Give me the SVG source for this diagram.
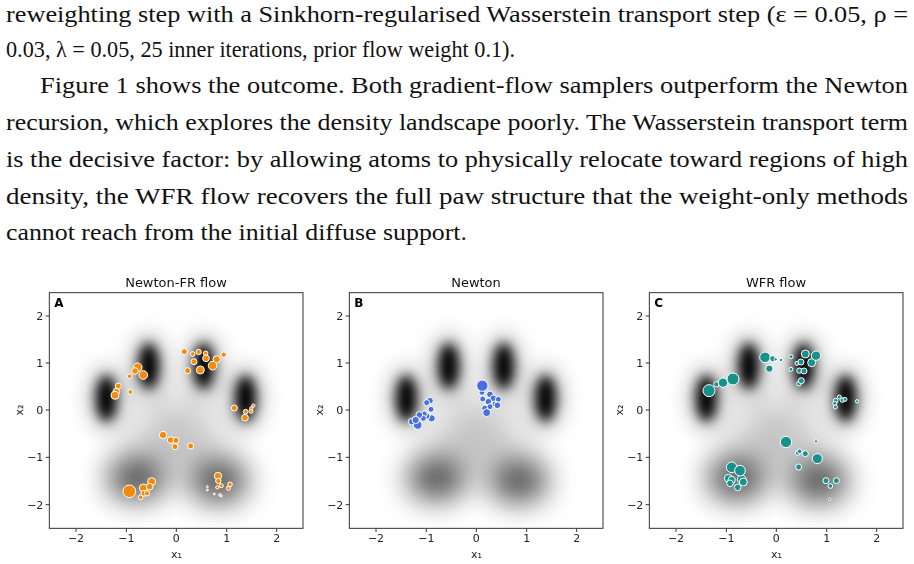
<svg xmlns="http://www.w3.org/2000/svg" width="914" height="564" viewBox="0 0 914 564">
<style>
.body{font-family:"Liberation Serif","DejaVu Serif",serif;font-size:23.5px;fill:#111}
.tk{font-family:"DejaVu Sans",sans-serif;font-size:33px;fill:#222}
.ttl{font-family:"DejaVu Sans",sans-serif;font-size:39px;fill:#111;text-anchor:middle}
.pl{font-family:"DejaVu Sans",sans-serif;font-size:36px;font-weight:bold;fill:#000}
.fr{fill:none;stroke:#333;stroke-width:3}
.tl{stroke:#333;stroke-width:3}
.o circle{fill:#f28a0c;stroke:#fff;stroke-width:3}
.b circle{fill:#4a6fe0;stroke:#fff;stroke-width:3}
.t circle{fill:#17918c;stroke:#fff;stroke-width:3}
.halo{fill:#000;opacity:0.3}
</style>
<defs>
<filter id="bt" x="-100%" y="-100%" width="300%" height="300%"><feGaussianBlur stdDeviation="17"/></filter>
<filter id="bh" x="-100%" y="-100%" width="300%" height="300%"><feGaussianBlur stdDeviation="32"/></filter>
<filter id="bp" x="-100%" y="-100%" width="300%" height="300%"><feGaussianBlur stdDeviation="45"/></filter>
<filter id="bm" x="-100%" y="-100%" width="300%" height="300%"><feGaussianBlur stdDeviation="70"/></filter>
<clipPath id="ax"><rect x="148" y="68" width="761" height="707"/></clipPath>
<g id="axes">
<g clip-path="url(#ax)">
<ellipse cx="529" cy="500" rx="130" ry="110" fill="#000" opacity="0.28" filter="url(#bm)"/>
<ellipse cx="409" cy="625" rx="85" ry="65" fill="#000" opacity="0.7" filter="url(#bp)"/>
<ellipse cx="657" cy="632" rx="85" ry="65" fill="#000" opacity="0.7" filter="url(#bp)"/>
<g filter="url(#bh)">
<ellipse class="halo" cx="319" cy="385" rx="50" ry="95"/>
<ellipse class="halo" cx="446" cy="288" rx="50" ry="95"/>
<ellipse class="halo" cx="611" cy="288" rx="50" ry="95"/>
<ellipse class="halo" cx="737" cy="385" rx="50" ry="95"/>
</g>
<ellipse cx="319" cy="385" rx="30" ry="68" fill="#000" filter="url(#bt)"/>
<ellipse cx="446" cy="288" rx="30" ry="68" fill="#000" filter="url(#bt)"/>
<ellipse cx="611" cy="288" rx="30" ry="68" fill="#000" filter="url(#bt)"/>
<ellipse cx="737" cy="385" rx="30" ry="68" fill="#000" filter="url(#bt)"/>
</g>
<rect class="fr" x="148" y="68" width="761" height="707"/>
<g class="tl">
<line x1="228" y1="775" x2="228" y2="786"/><line x1="379" y1="775" x2="379" y2="786"/><line x1="529" y1="775" x2="529" y2="786"/><line x1="680" y1="775" x2="680" y2="786"/><line x1="830" y1="775" x2="830" y2="786"/>
<line x1="148" y1="138" x2="137" y2="138"/><line x1="148" y1="279" x2="137" y2="279"/><line x1="148" y1="420" x2="137" y2="420"/><line x1="148" y1="562" x2="137" y2="562"/><line x1="148" y1="704" x2="137" y2="704"/>
</g>
<g class="tk" text-anchor="middle">
<text x="228" y="817">−2</text><text x="379" y="817">−1</text><text x="529" y="817">0</text><text x="680" y="817">1</text><text x="830" y="817">2</text>
<text x="529" y="864">x₁</text>
</g>
<g class="tk" text-anchor="end">
<text x="130" y="150">2</text><text x="130" y="291">1</text><text x="130" y="432">0</text><text x="130" y="574">−1</text><text x="130" y="716">−2</text>
</g>
<text class="tk" text-anchor="middle" transform="translate(68,420) rotate(-90)">x₂</text>
</g>
</defs>
<g id="paragraph" class="body">
<text x="6" y="22" textLength="902" lengthAdjust="spacingAndGlyphs">reweighting step with a Sinkhorn-regularised Wasserstein transport step (ε = 0.05, ρ =</text>
<text x="6" y="57" textLength="509" lengthAdjust="spacingAndGlyphs">0.03, λ = 0.05, 25 inner iterations, prior flow weight 0.1).</text>
<text x="40" y="93" textLength="868" lengthAdjust="spacingAndGlyphs">Figure 1 shows the outcome. Both gradient-flow samplers outperform the Newton</text>
<text x="6" y="130" textLength="902" lengthAdjust="spacingAndGlyphs">recursion, which explores the density landscape poorly. The Wasserstein transport term</text>
<text x="6" y="167" textLength="902" lengthAdjust="spacingAndGlyphs">is the decisive factor: by allowing atoms to physically relocate toward regions of high</text>
<text x="6" y="204" textLength="902" lengthAdjust="spacingAndGlyphs">density, the WFR flow recovers the full paw structure that the weight-only methods</text>
<text x="6" y="240" textLength="461" lengthAdjust="spacingAndGlyphs">cannot reach from the initial diffuse support.</text>
</g>
<g id="panelA" transform="translate(0,270) scale(0.33333)">
<use href="#axes"/>
<text class="ttl" x="528" y="50">Newton-FR flow</text>
<text class="pl" x="163" y="112">A</text>
<g class="o">
<circle cx="553" cy="245" r="9"/><circle cx="578" cy="252" r="7"/><circle cx="596" cy="246" r="8"/><circle cx="617" cy="250" r="7"/><circle cx="671" cy="254" r="8"/><circle cx="582" cy="275" r="9"/><circle cx="618" cy="265" r="10"/><circle cx="650" cy="268" r="11"/><circle cx="563" cy="302" r="9"/><circle cx="601" cy="300" r="12"/><circle cx="638" cy="287" r="13"/>
<circle cx="413" cy="292" r="13"/><circle cx="405" cy="303" r="10"/><circle cx="430" cy="315" r="13"/><circle cx="389" cy="319" r="7"/><circle cx="391" cy="366" r="7"/><circle cx="355" cy="348" r="9"/><circle cx="349" cy="365" r="10"/><circle cx="345" cy="376" r="12"/>
<circle cx="703" cy="414" r="9"/><circle cx="737" cy="425" r="7"/><circle cx="760" cy="407" r="5"/><circle cx="753" cy="424" r="6"/><circle cx="754" cy="415" r="5"/><circle cx="735" cy="443" r="10"/>
<circle cx="489" cy="495" r="11"/><circle cx="512" cy="510" r="10"/><circle cx="528" cy="511" r="9"/><circle cx="525" cy="530" r="9"/><circle cx="572" cy="528" r="9"/>
<circle cx="388" cy="664" r="19"/><circle cx="430" cy="654" r="12"/><circle cx="455" cy="635" r="12"/><circle cx="449" cy="650" r="10"/><circle cx="432" cy="670" r="9"/><circle cx="441" cy="670" r="8"/><circle cx="422" cy="682" r="7"/>
<circle cx="654" cy="618" r="11"/><circle cx="655" cy="633" r="8"/><circle cx="664" cy="647" r="6"/><circle cx="652" cy="652" r="5"/><circle cx="685" cy="655" r="6"/><circle cx="690" cy="643" r="7"/><circle cx="622" cy="650" r="3"/><circle cx="622" cy="660" r="3"/><circle cx="643" cy="672" r="3"/><circle cx="660" cy="675" r="4"/><circle cx="664" cy="678" r="3"/>
</g>
</g>
<g id="panelB" transform="translate(300,270) scale(0.33333)">
<use href="#axes"/>
<text class="ttl" x="528" y="50">Newton</text>
<text class="pl" x="163" y="112">B</text>
<g class="b">
<circle cx="546" cy="367" r="9"/><circle cx="548" cy="387" r="9"/><circle cx="570" cy="373" r="10"/><circle cx="580" cy="385" r="10"/><circle cx="595" cy="388" r="9"/><circle cx="565" cy="395" r="10"/><circle cx="585" cy="402" r="9"/><circle cx="555" cy="415" r="10"/><circle cx="592" cy="406" r="10"/><circle cx="570" cy="410" r="9"/><circle cx="560" cy="428" r="12"/><circle cx="547" cy="347" r="17"/>
<circle cx="390" cy="392" r="10"/><circle cx="380" cy="398" r="9"/><circle cx="393" cy="418" r="9"/><circle cx="395" cy="445" r="11"/><circle cx="380" cy="438" r="10"/><circle cx="373" cy="432" r="9"/><circle cx="370" cy="445" r="9"/><circle cx="358" cy="435" r="10"/><circle cx="353" cy="465" r="13"/><circle cx="335" cy="455" r="10"/><circle cx="347" cy="450" r="11"/>
</g>
</g>
<g id="panelC" transform="translate(600,270) scale(0.33333)">
<use href="#axes"/>
<text class="ttl" x="528" y="50">WFR flow</text>
<text class="pl" x="163" y="112">C</text>
<g class="t">
<circle cx="495" cy="262" r="16"/><circle cx="518" cy="266" r="9"/><circle cx="527" cy="268" r="5"/><circle cx="543" cy="270" r="5"/><circle cx="508" cy="296" r="11"/><circle cx="573" cy="260" r="6"/><circle cx="573" cy="298" r="6"/><circle cx="591" cy="280" r="6"/><circle cx="603" cy="276" r="9"/><circle cx="635" cy="278" r="12"/><circle cx="616" cy="252" r="12"/><circle cx="648" cy="257" r="14"/><circle cx="598" cy="302" r="8"/><circle cx="612" cy="303" r="9"/><circle cx="597" cy="341" r="7"/><circle cx="604" cy="332" r="9"/>
<circle cx="349" cy="343" r="8"/><circle cx="369" cy="338" r="14"/><circle cx="399" cy="327" r="18"/><circle cx="327" cy="362" r="18"/>
<circle cx="718" cy="381" r="6"/><circle cx="707" cy="392" r="7"/><circle cx="704" cy="400" r="6"/><circle cx="706" cy="411" r="6"/><circle cx="727" cy="390" r="7"/><circle cx="735" cy="388" r="6"/><circle cx="771" cy="394" r="5"/>
<circle cx="558" cy="516" r="17"/><circle cx="593" cy="549" r="7"/><circle cx="599" cy="544" r="7"/><circle cx="616" cy="551" r="9"/><circle cx="648" cy="514" r="5"/><circle cx="652" cy="566" r="15"/><circle cx="596" cy="591" r="9"/>
<circle cx="395" cy="592" r="16"/><circle cx="385" cy="625" r="12"/><circle cx="395" cy="630" r="11"/><circle cx="390" cy="640" r="10"/><circle cx="413" cy="652" r="10"/><circle cx="425" cy="628" r="13"/><circle cx="430" cy="636" r="12"/><circle cx="420" cy="602" r="16"/>
<circle cx="678" cy="632" r="9"/><circle cx="709" cy="632" r="9"/><circle cx="691" cy="648" r="7"/><circle cx="689" cy="688" r="4"/>
</g>
</g>
</svg>
